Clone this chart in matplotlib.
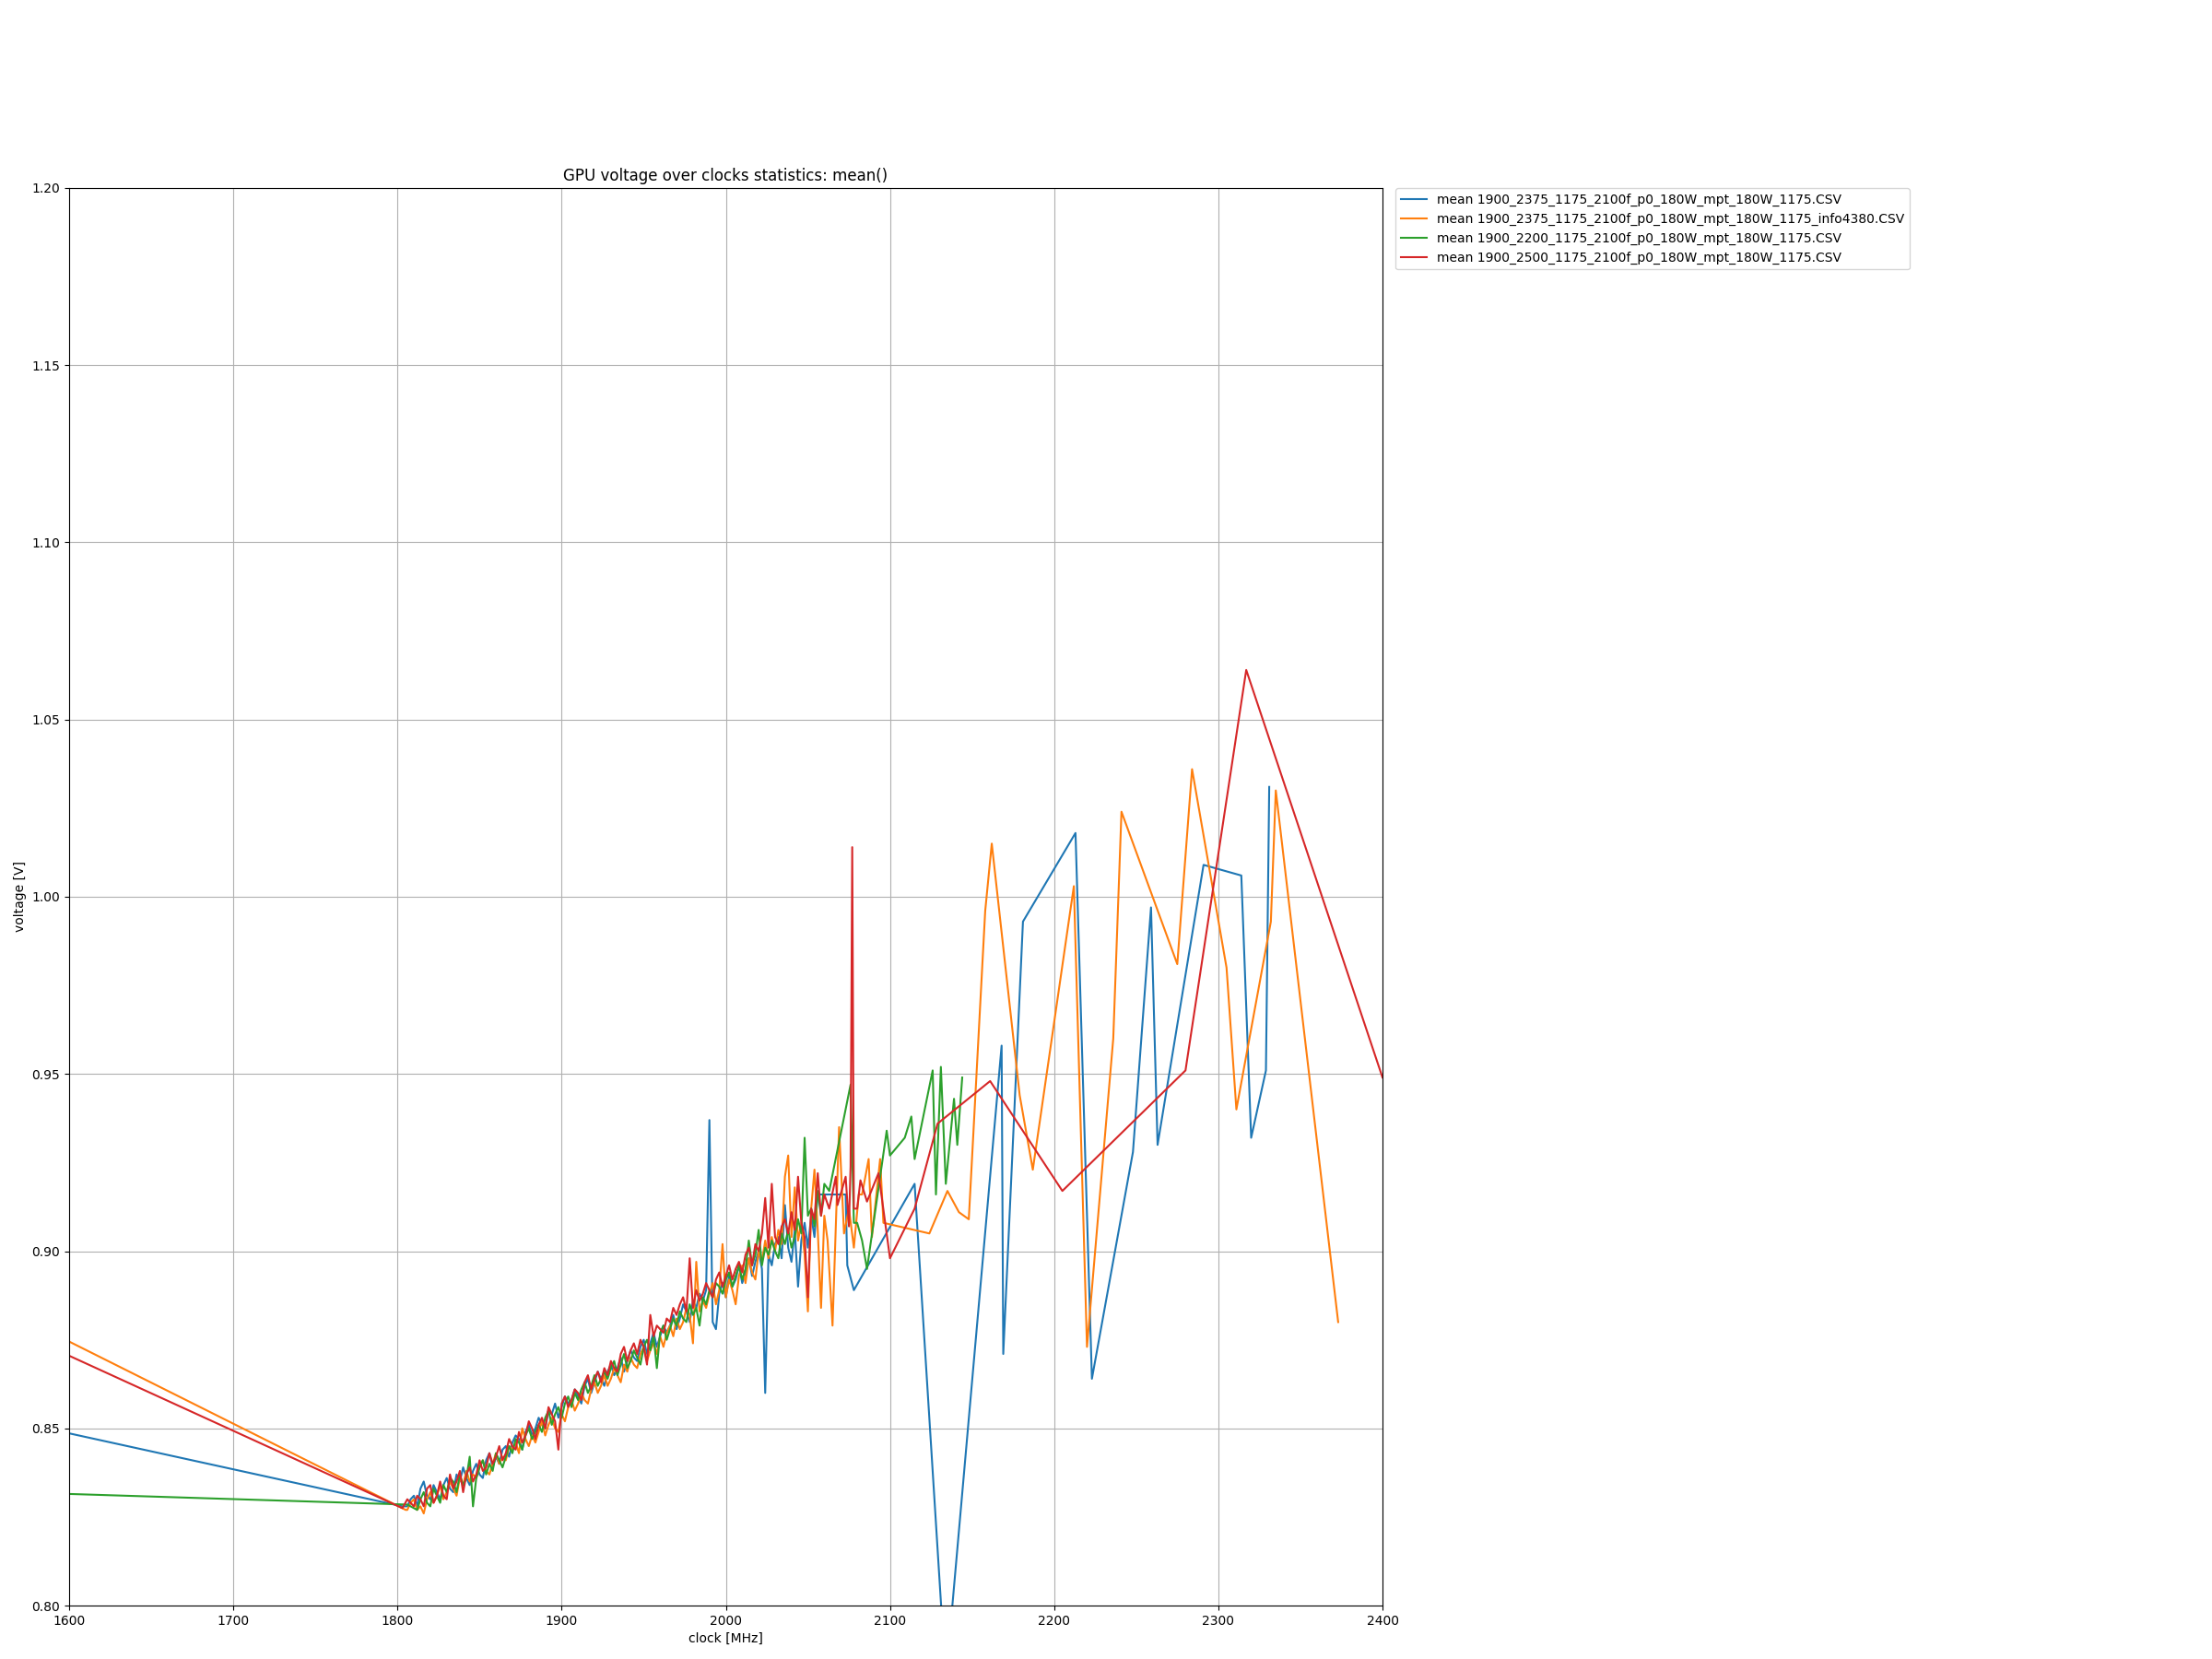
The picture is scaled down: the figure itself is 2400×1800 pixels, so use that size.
#!/usr/bin/env python
'''
GPU voltage over clocks statistics: mean() of several logged CSV runs
'''
import matplotlib
matplotlib.use('Agg')
import matplotlib.pyplot as plt

### shared clock sampling of the dense part (MHz)
CLK_GRID = list(range(1806, 2062, 2))

LABELS = ['mean 1900_2375_1175_2100f_p0_180W_mpt_180W_1175.CSV',
          'mean 1900_2375_1175_2100f_p0_180W_mpt_180W_1175_info4380.CSV',
          'mean 1900_2200_1175_2100f_p0_180W_mpt_180W_1175.CSV',
          'mean 1900_2500_1175_2100f_p0_180W_mpt_180W_1175.CSV']
COLORS = ['#1f77b4', '#ff7f0e', '#2ca02c', '#d62728']

### 2375 run
blue_head_x = [1600, 1803]
blue_head_v = [0.8486, 0.828]
blue_dense = [
    0.828, 0.830, 0.831, 0.828, 0.833, 0.835, 0.831, 0.830, 0.834, 0.832,
    0.830, 0.834, 0.836, 0.833, 0.832, 0.837, 0.835, 0.839, 0.836, 0.834,
    0.838, 0.840, 0.837, 0.836, 0.841, 0.843, 0.839, 0.842, 0.840, 0.844,
    0.845, 0.842, 0.846, 0.848, 0.847, 0.844, 0.849, 0.851, 0.848, 0.850,
    0.853, 0.851, 0.850, 0.855, 0.854, 0.857, 0.853, 0.856, 0.859, 0.857,
    0.858, 0.861, 0.859, 0.857, 0.862, 0.864, 0.860, 0.863, 0.866, 0.864,
    0.862, 0.866, 0.868, 0.865, 0.867, 0.870, 0.866, 0.869, 0.872, 0.870,
    0.869, 0.873, 0.875, 0.871, 0.874, 0.877, 0.873, 0.876, 0.879, 0.877,
    0.879, 0.882, 0.878, 0.881, 0.885, 0.883, 0.880, 0.886, 0.884, 0.888,
    0.886, 0.889, 0.937, 0.880, 0.878, 0.888, 0.891, 0.887, 0.893, 0.890,
    0.892, 0.896, 0.891, 0.894, 0.898, 0.893, 0.897, 0.900, 0.895, 0.860,
    0.899, 0.896, 0.902, 0.904, 0.898, 0.913, 0.901, 0.897, 0.906, 0.890,
    0.903, 0.908, 0.901, 0.910, 0.904]
blue_tail_x = [2056, 2073, 2074, 2078, 2115, 2134, 2168, 2169, 2181, 2213,
               2223, 2248, 2259, 2263, 2291, 2314, 2320, 2329, 2331]
blue_tail_v = [0.916, 0.916, 0.896, 0.889, 0.919, 0.779, 0.958, 0.871, 0.993, 1.018,
               0.864, 0.928, 0.997, 0.930, 1.009, 1.006, 0.932, 0.951, 1.031]

### 2375 run, info4380
orange_head_x = [1600, 1805]
orange_head_v = [0.8745, 0.827]
orange_dense = [
    0.827, 0.829, 0.830, 0.827, 0.828, 0.826, 0.830, 0.832, 0.829, 0.831,
    0.834, 0.830, 0.832, 0.835, 0.833, 0.831, 0.836, 0.834, 0.838, 0.835,
    0.837, 0.836, 0.839, 0.841, 0.838, 0.837, 0.840, 0.843, 0.840, 0.842,
    0.841, 0.845, 0.844, 0.846, 0.843, 0.850, 0.847, 0.845, 0.848, 0.846,
    0.849, 0.852, 0.848, 0.851, 0.853, 0.850, 0.849, 0.854, 0.852, 0.856,
    0.858, 0.855, 0.857, 0.860, 0.858, 0.857, 0.861, 0.863, 0.860, 0.862,
    0.865, 0.862, 0.864, 0.867, 0.865, 0.863, 0.868, 0.866, 0.870, 0.868,
    0.867, 0.871, 0.873, 0.869, 0.872, 0.874, 0.871, 0.876, 0.873, 0.877,
    0.879, 0.876, 0.881, 0.878, 0.880, 0.884, 0.882, 0.874, 0.897, 0.883,
    0.886, 0.884, 0.888, 0.891, 0.885, 0.889, 0.902, 0.887, 0.892, 0.889,
    0.885, 0.893, 0.896, 0.891, 0.898, 0.894, 0.892, 0.900, 0.897, 0.903,
    0.898, 0.904, 0.900, 0.906, 0.902, 0.921, 0.927, 0.904, 0.918, 0.903,
    0.908, 0.899, 0.883, 0.912, 0.923, 0.906, 0.884, 0.910]
orange_tail_x = [2062, 2065, 2069, 2072, 2075, 2078, 2081, 2083, 2087, 2089,
                 2094, 2096, 2124, 2135, 2142, 2148, 2158, 2162, 2179, 2187,
                 2212, 2220, 2236, 2241, 2275, 2284, 2305, 2311, 2332, 2335, 2373]
orange_tail_v = [0.903, 0.879, 0.935, 0.905, 0.912, 0.901, 0.916, 0.916, 0.926, 0.904,
                 0.926, 0.908, 0.905, 0.917, 0.911, 0.909, 0.996, 1.015, 0.944, 0.923,
                 1.003, 0.873, 0.960, 1.024, 0.981, 1.036, 0.980, 0.940, 0.993, 1.030, 0.880]

### 2200 run
green_head_x = [1600, 1806]
green_head_v = [0.8315, 0.8285]
green_dense = [
    0.827, 0.830, 0.832, 0.829, 0.828, 0.833, 0.831,
    0.829, 0.834, 0.832, 0.836, 0.835, 0.832, 0.837, 0.834, 0.836, 0.842,
    0.828, 0.836, 0.839, 0.841, 0.837, 0.840, 0.838, 0.843, 0.841, 0.839,
    0.842, 0.845, 0.843, 0.847, 0.846, 0.844, 0.848, 0.850, 0.847, 0.849,
    0.851, 0.849, 0.853, 0.855, 0.851, 0.854, 0.856, 0.853, 0.857, 0.859,
    0.856, 0.860, 0.858, 0.861, 0.863, 0.860, 0.862, 0.865, 0.862, 0.864,
    0.866, 0.864, 0.867, 0.869, 0.865, 0.868, 0.871, 0.867, 0.869, 0.872,
    0.870, 0.868, 0.873, 0.875, 0.872, 0.876, 0.867, 0.877, 0.879, 0.875,
    0.878, 0.881, 0.879, 0.883, 0.881, 0.880, 0.885, 0.882, 0.884, 0.879,
    0.887, 0.885, 0.889, 0.887, 0.891, 0.890, 0.888, 0.892, 0.894, 0.890,
    0.893, 0.896, 0.892, 0.895, 0.903, 0.896, 0.899, 0.906, 0.896, 0.901,
    0.899, 0.903, 0.900, 0.898, 0.905, 0.902, 0.906, 0.901, 0.904, 0.909,
    0.905, 0.932, 0.910, 0.912, 0.907, 0.917, 0.910, 0.919]
green_tail_x = [2063, 2076, 2078, 2080, 2083, 2086, 2098, 2100, 2109, 2113,
                2115, 2126, 2128, 2131, 2134, 2139, 2141, 2144]
green_tail_v = [0.917, 0.947, 0.908, 0.908, 0.903, 0.895, 0.934, 0.927, 0.932, 0.938,
                0.926, 0.951, 0.916, 0.952, 0.919, 0.943, 0.930, 0.949]

### 2500 run
red_head_x = [1600, 1803]
red_head_v = [0.8705, 0.8275]
red_dense = [
    0.830, 0.829, 0.828, 0.831, 0.830, 0.828, 0.833, 0.834, 0.829, 0.831,
    0.835, 0.831, 0.830, 0.837, 0.833, 0.835, 0.838, 0.832, 0.837, 0.839,
    0.835, 0.837, 0.841, 0.838, 0.839, 0.843, 0.840, 0.842, 0.845, 0.841,
    0.843, 0.847, 0.845, 0.844, 0.849, 0.846, 0.848, 0.852, 0.850, 0.847,
    0.851, 0.853, 0.850, 0.856, 0.854, 0.852, 0.844, 0.857, 0.859, 0.856,
    0.858, 0.861, 0.860, 0.858, 0.863, 0.865, 0.861, 0.864, 0.866, 0.863,
    0.867, 0.865, 0.869, 0.867, 0.866, 0.871, 0.873, 0.869, 0.872, 0.874,
    0.871, 0.875, 0.873, 0.868, 0.882, 0.876, 0.879, 0.878, 0.877, 0.881,
    0.880, 0.884, 0.882, 0.885, 0.887, 0.883, 0.898, 0.884, 0.889, 0.886,
    0.888, 0.891, 0.889, 0.887, 0.892, 0.894, 0.890, 0.893, 0.896, 0.892,
    0.895, 0.897, 0.894, 0.899, 0.901, 0.896, 0.902, 0.900, 0.905, 0.915,
    0.901, 0.919, 0.904, 0.902, 0.907, 0.909, 0.905, 0.911, 0.906, 0.921,
    0.908, 0.904, 0.887, 0.912, 0.909, 0.922, 0.910, 0.916]
red_tail_x = [2063, 2067, 2068, 2073, 2075, 2076, 2077, 2078, 2080, 2082,
              2086, 2093, 2100, 2115, 2129, 2161, 2205, 2280, 2317, 2400]
red_tail_v = [0.912, 0.921, 0.913, 0.921, 0.907, 0.924, 1.014, 0.912, 0.912, 0.920,
              0.914, 0.922, 0.898, 0.912, 0.936, 0.948, 0.917, 0.951, 1.064, 0.949]


def series():
    '''
    return list of (X, V) for the four runs
    '''
    out = []
    out.append((blue_head_x + CLK_GRID[:len(blue_dense)] + blue_tail_x,
                blue_head_v + blue_dense + blue_tail_v))
    out.append((orange_head_x + CLK_GRID + orange_tail_x,
                orange_head_v + orange_dense + orange_tail_v))
    out.append((green_head_x + CLK_GRID[3:] + green_tail_x,
                green_head_v + green_dense + green_tail_v))
    out.append((red_head_x + CLK_GRID + red_tail_x,
                red_head_v + red_dense + red_tail_v))
    return out


def main():
    fig = plt.figure(figsize=(24, 18), dpi=100)
    ax = fig.add_axes([0.03125, 0.0322, 0.59375, 0.8545])

    for (X, V), lab, col in zip(series(), LABELS, COLORS):
        ax.plot(X, V, color=col, label=lab, linewidth=1.5)

    ax.set_xlim(1600, 2400)
    ax.set_ylim(0.80, 1.20)
    ax.set_yticks([0.80, 0.85, 0.90, 0.95, 1.00, 1.05, 1.10, 1.15, 1.20])
    ax.grid(True)
    ax.set_title('GPU voltage over clocks statistics: mean()')
    ax.set_xlabel('clock [MHz]')
    ax.set_ylabel('voltage [V]')
    ax.legend(loc='upper left', bbox_to_anchor=(1.01, 1.0), borderaxespad=0)

    fig.savefig('out.png', dpi=100)
    print('Wrote out.png')


if __name__ == '__main__':
    main()
